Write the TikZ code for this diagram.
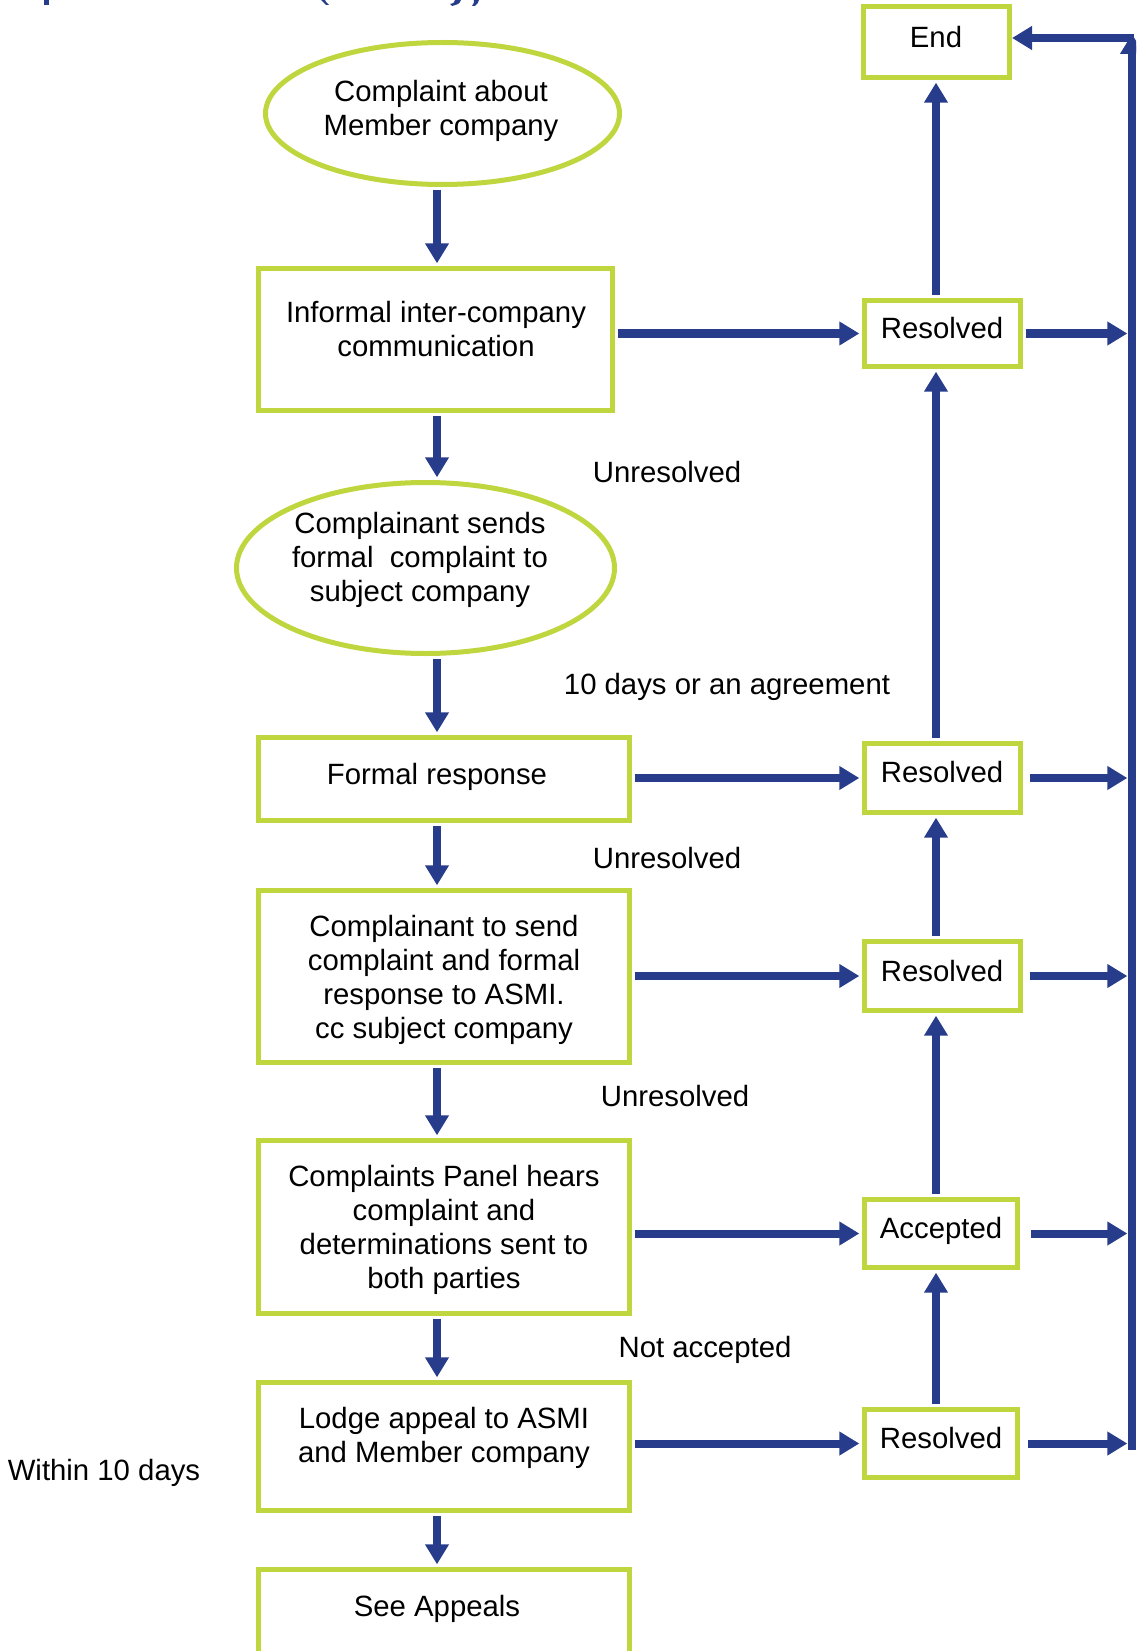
\documentclass[tikz,border=0pt]{standalone}
\usepackage{fontspec}
\setmainfont{Liberation Sans}
\usetikzlibrary{arrows.meta,shapes.geometric,fit}
\definecolor{navy}{RGB}{39,60,139}
\definecolor{lime}{RGB}{191,214,62}
\begin{document}
\begin{tikzpicture}[x=0.75pt,y=-0.75pt,
  box/.style={draw=lime,line width=3.75pt,inner sep=0pt,fill=white},
  oval/.style={ellipse,draw=lime,line width=3.75pt,inner sep=0pt,fill=white},
  txt/.style={font=\fontsize{22}{25.3}\selectfont,align=center,inner sep=0pt,text=black},
  arrplain/.style={draw=navy,line width=6pt,-{Triangle[length=15pt,width=17pt]}},
  arr/.style={arrplain,shorten <=2pt,shorten >=2pt},
  ]
\useasboundingbox (0,0) rectangle (1136,1651);
\clip (0,0) rectangle (1136,1651);
% cut-off title fragments
\fill[navy] (44,0) rectangle (49,5);
\fill[navy] (321,0) -- (325,0) .. controls (326,2) .. (329,5) -- (326,5) .. controls (323,3) .. (321,0) -- cycle;
\fill[navy] (455,0) -- (461,0) .. controls (459,4) .. (452,6) -- (450,4) .. controls (454,3) .. (455,0) -- cycle;
\fill[navy] (474,0) -- (479,0) .. controls (478,3) .. (475,6) -- (472,6) .. controls (474,3) .. (474,0) -- cycle;

% coordinates of columns
\coordinate (cx) at (437,0);
\coordinate (rx) at (936,0);
\coordinate (vx) at (1130,0);
\coordinate (vbot) at (1132,1450);
\coordinate (vtop) at (1132,34);
\coordinate (corner) at (1134,38);

% left column
\node[oval,minimum width=265.5pt,minimum height=106.5pt] (e1) at (442.5,113.5) {};
\node[box,fit={(258.5,268.5)(612.5,410.5)}] (b2) {};
\node[oval,minimum width=283.5pt,minimum height=128.25pt] (e2) at (425.5,568) {};
\node[box,fit={(258.5,737.5)(629.5,820.5)}] (b3) {};
\node[box,fit={(258.5,890.5)(629.5,1062.5)}] (b4) {};
\node[box,fit={(258.5,1140.5)(629.5,1313.5)}] (b5) {};
\node[box,fit={(258.5,1382.5)(629.5,1510.5)}] (b6) {};
\node[box,fit={(258.5,1569.5)(629.5,1700)}] (b7) {};

% right column
\node[box,fit={(863.5,6.5)(1009.5,77.5)}] (end) {};
\node[box,fit={(864.5,300.5)(1020.5,366.5)}] (r1) {};
\node[box,fit={(864.5,743.5)(1020.5,812.5)}] (r2) {};
\node[box,fit={(864.5,941.5)(1020.5,1010.5)}] (r3) {};
\node[box,fit={(864.5,1199.5)(1017.5,1267.5)}] (acc) {};
\node[box,fit={(864.5,1409.5)(1017.5,1477.5)}] (r4) {};

% texts in shapes
\node[txt] (te1) at (441,111) {Complaint about\\Member company};
\node[txt] (tb2) at (436,329) {Informal inter-company\\communication};
\node[txt] (te2) at (420,560) {Complainant sends\\formal\ \ complaint to\\subject company};
\node[txt] (tb3) at (437,777) {Formal response};
\node[txt] (tb4) at (444,980) {Complainant to send\\complaint and formal\\response to ASMI.\\cc subject company};
\node[txt] (tb5) at (444,1230) {Complaints Panel hears\\complaint and\\determinations sent to\\both parties};
\node[txt] (tb6) at (444,1438) {Lodge appeal to ASMI\\and Member company};
\node[txt] (tb7) at (437,1609) {See Appeals};
\node[txt] (tend) at (936,37) {End};
\node[txt] (tr1) at (942,328) {Resolved};
\node[txt] (tr2) at (942,772) {Resolved};
\node[txt] (tr3) at (942,971) {Resolved};
\node[txt] (tacc) at (941,1231) {Accepted};
\node[txt] (tr4) at (941,1438) {Resolved};

% free labels
\node[txt,anchor=base] (l1) at (667,482) {Unresolved};
\node[txt,anchor=base] (l2) at (727,694) {10 days or an agreement};
\node[txt,anchor=base] (l3) at (667,868) {Unresolved};
\node[txt,anchor=base] (l4) at (675,1106) {Unresolved};
\node[txt,anchor=base] (l5) at (705,1357) {Not accepted};
\node[txt,anchor=base] (l6) at (104,1480) {Within 10 days};

% down arrows, left column
\draw[arr] (cx |- e1.south) -- (cx |- b2.north);
\draw[arr] (cx |- b2.south) -- (cx |- e2.north);
\draw[arr] (cx |- e2.south) -- (cx |- b3.north);
\draw[arr] (cx |- b3.south) -- (cx |- b4.north);
\draw[arr] (cx |- b4.south) -- (cx |- b5.north);
\draw[arr] (cx |- b5.south) -- (cx |- b6.north);
\draw[arr] (cx |- b6.south) -- (cx |- b7.north);

% across arrows
\draw[arr] (b2.east |- r1.west) -- (r1.west);
\draw[arr] (b3.east |- r2.west) -- (r2.west);
\draw[arr] (b4.east |- r3.west) -- (r3.west);
\draw[arr] (b5.east |- acc.west) -- (acc.west);
\draw[arr] (b6.east |- r4.west) -- (r4.west);

% up arrows, right column
\draw[arr] (rx |- r1.north) -- (rx |- end.south);
\draw[arr] (rx |- r2.north) -- (rx |- r1.south);
\draw[arr] (rx |- r3.north) -- (rx |- r2.south);
\draw[arr] (rx |- acc.north) -- (rx |- r3.south);
\draw[arr] (rx |- r4.north) -- (rx |- acc.south);

% to the collector line
\draw[arr] (r1.east) -- (vx |- r1.east);
\draw[arr] ([xshift=3pt]r2.east) -- (vx |- r2.east);
\draw[arr] ([xshift=3pt]r3.east) -- (vx |- r3.east);
\draw[arr] ([xshift=6pt]acc.east) -- (vx |- acc.east);
\draw[arr] ([xshift=4pt]r4.east) -- (vx |- r4.east);

% collector line and return to End
\draw[arrplain] (vbot) -- (vtop);
\draw[arrplain] (corner) -- (end.east |- corner);
\end{tikzpicture}
\end{document}
